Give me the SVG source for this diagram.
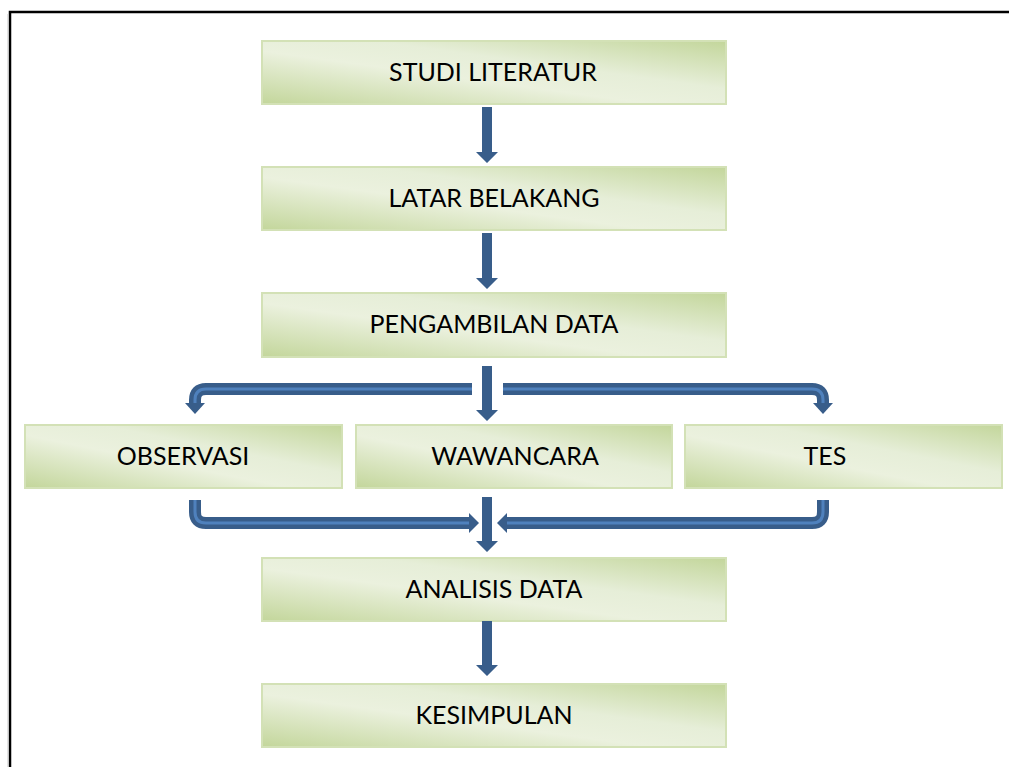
<svg xmlns="http://www.w3.org/2000/svg" width="1009" height="767" viewBox="0 0 1009 767">
<defs>
<linearGradient id="g" x1="0" y1="1" x2="1" y2="0">
<stop offset="0" stop-color="#c3d69b"/>
<stop offset="0.42" stop-color="#ebf1de"/>
<stop offset="0.62" stop-color="#e6eed8"/>
<stop offset="1" stop-color="#c3d69b"/>
</linearGradient>
</defs>
<style>
.box{fill:url(#g);stroke:#d3e1b6;stroke-width:2}
.lbl{font-family:Lato,"Open Sans","Liberation Sans",sans-serif;font-size:25px;fill:#000;text-anchor:middle}
.ar{fill:#385d8a}
.el{fill:none;stroke:#385d8a;stroke-width:12;stroke-linejoin:round}
.eli{fill:none;stroke:#4f81bd;stroke-width:3;stroke-linejoin:round}
</style>
<rect width="1009" height="767" fill="#fff"/>
<path d="M10 767 V12 H1009" fill="none" stroke="#000" stroke-width="2.5"/>
<line x1="8" y1="14" x2="8" y2="767" stroke="#c8c8c8" stroke-width="1"/>

<g id="n1"><rect class="box" x="262" y="41" width="464" height="63"/><text class="lbl" x="493" y="81">STUDI LITERATUR</text></g>
<g id="n2"><rect class="box" x="262" y="167" width="464" height="63"/><text class="lbl" x="494" y="207">LATAR BELAKANG</text></g>
<g id="n3"><rect class="box" x="262" y="293" width="464" height="64"/><text class="lbl" x="494" y="333">PENGAMBILAN DATA</text></g>
<g id="n4"><rect class="box" x="25" y="425" width="317" height="63"/><text class="lbl" x="183" y="465">OBSERVASI</text></g>
<g id="n5"><rect class="box" x="356" y="425" width="316" height="63"/><text class="lbl" x="515" y="465">WAWANCARA</text></g>
<g id="n6"><rect class="box" x="685" y="425" width="317" height="63"/><text class="lbl" x="825" y="465">TES</text></g>
<g id="n7"><rect class="box" x="262" y="558" width="464" height="63"/><text class="lbl" x="494" y="598">ANALISIS DATA</text></g>
<g id="n8"><rect class="box" x="262" y="684" width="464" height="63"/><text class="lbl" x="494" y="724">KESIMPULAN</text></g>

<g id="connectors">
<polygon class="ar" points="482,107 492,107 492,152 498,152 487,163 476,152 482,152"/>
<polygon class="ar" points="482,233 492,233 492,278 498,278 487,289 476,278 482,278"/>
<polygon class="ar" points="482,366 492,366 492,410 498,410 487,421 476,410 482,410"/>
<polygon class="ar" points="482,497 492,497 492,541 498,541 487,552 476,541 482,541"/>
<polygon class="ar" points="482,621 492,621 492,665 498,665 487,676 476,665 482,665"/>

<path class="el" d="M472 389 H206 Q195 389 195 400 V404"/>
<path class="eli" d="M472 389 H206 Q195 389 195 400 V404"/>
<polygon class="ar" points="185,403 205,403 195,414"/>

<path class="el" d="M503 389 H812 Q823 389 823 400 V404"/>
<path class="eli" d="M503 389 H812 Q823 389 823 400 V404"/>
<polygon class="ar" points="813,403 833,403 823,414"/>

<path class="el" d="M195 500 V512 Q195 523 206 523 H470"/>
<path class="eli" d="M195 500 V512 Q195 523 206 523 H470"/>
<polygon class="ar" points="469,513 469,533 479,523"/>

<path class="el" d="M823 500 V512 Q823 523 812 523 H506"/>
<path class="eli" d="M823 500 V512 Q823 523 812 523 H506"/>
<polygon class="ar" points="507,513 507,533 497,523"/>
</g>
</svg>
